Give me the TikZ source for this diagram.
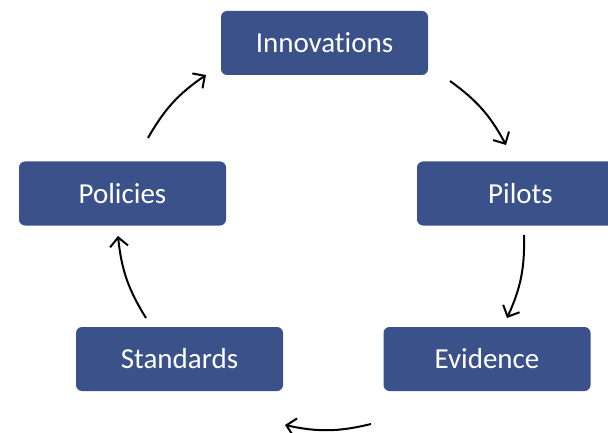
\documentclass[tikz,border=0pt]{standalone}
\usepackage{fontspec}
\setmainfont{Carlito}[Ligatures={NoCommon,NoRare,NoContextual}]
\usetikzlibrary{arrows.meta}
\definecolor{boxblue}{HTML}{3B5189}
\begin{document}
\begin{tikzpicture}[x=1pt,y=-1pt,
  box/.style={fill=boxblue, rounded corners=6pt, minimum width=207pt, minimum height=64pt,
    text=white, font=\fontsize{29}{33}\selectfont, inner sep=0pt},
  flow/.style={line width=2pt, -{Straight Barb[length=9pt,width=18pt,line width=2pt]}, bend left=13}]
\useasboundingbox (0,0) rectangle (608,433);
\clip (0,0) rectangle (608,433);
\node[box] (innov) at (324.5,43) {Innovations};
\node[box] (pilots) at (520.5,193.5) {Pilots};
\node[box] (evid) at (487,359) {Evidence};
\node[box] (stand) at (179.5,359) {Standards};
\node[box] (pol) at (122.5,193.5) {Policies};
\coordinate (a1s) at (450,81);  \coordinate (a1e) at (506,145);
\coordinate (a2s) at (524,235); \coordinate (a2e) at (507,318);
\coordinate (a3s) at (371,424); \coordinate (a3e) at (285,425);
\coordinate (a4s) at (146,318); \coordinate (a4e) at (118,236);
\coordinate (a5s) at (148,138); \coordinate (a5e) at (206,75);
\draw[flow] (a1s) to (a1e);
\draw[flow] (a2s) to (a2e);
\draw[flow] (a3s) to (a3e);
\draw[flow] (a4s) to (a4e);
\draw[flow] (a5s) to (a5e);
\end{tikzpicture}
\end{document}
